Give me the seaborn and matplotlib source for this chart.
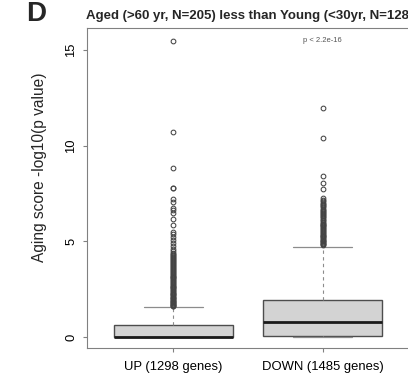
import matplotlib
matplotlib.use("Agg")
import matplotlib.pyplot as plt
import pandas as pd
import seaborn as sns

# box statistics
groups = ["UP (1298 genes)", "DOWN (1485 genes)"]
box_low = [0.0, 0.0]
box_q1 = [0.0, 0.06]
box_median = [0.01, 0.78]
box_q3 = [0.63, 1.94]
box_high = [1.57, 4.72]

up_outliers = [15.48, 10.74, 8.82, 7.81, 7.79, 7.20, 7.08, 6.76, 6.64, 6.50,
               6.16, 5.86, 5.51, 5.37, 5.25, 5.07, 4.92, 4.76, 4.60, 4.50,
               4.39, 4.33, 4.27, 4.22, 4.18, 4.11, 4.05, 4.01, 3.96, 3.90,
               3.86, 3.81, 3.75, 3.70, 3.66, 3.60, 3.55, 3.51, 3.46, 3.40,
               3.35, 3.31, 3.26, 3.21, 3.15, 3.11, 3.06, 3.01, 2.96, 2.92,
               2.87, 2.82, 2.77, 2.73, 2.68, 2.63, 2.59, 2.54, 2.50, 2.45,
               2.41, 2.36, 2.32, 2.27, 2.23, 2.19, 2.14, 2.10, 2.06, 2.02,
               1.98, 1.94, 1.90, 1.86, 1.82, 1.79, 1.75, 1.72, 1.68, 1.65,
               1.62, 1.60]
down_outliers = [11.96, 10.39, 8.42, 8.07, 7.74, 7.29, 7.17, 7.10, 7.02, 6.95,
                 6.90, 6.83, 6.77, 6.70, 6.66, 6.60, 6.53, 6.47, 6.41, 6.36,
                 6.30, 6.25, 6.20, 6.14, 6.09, 6.03, 5.98, 5.93, 5.88, 5.83,
                 5.78, 5.73, 5.68, 5.63, 5.58, 5.53, 5.48, 5.44, 5.39, 5.35,
                 5.30, 5.26, 5.21, 5.17, 5.12, 5.08, 5.04, 5.00, 4.96, 4.92,
                 4.88, 4.84, 4.80]

y_ticks = [0, 5, 10, 15]
panel = "D"
title = "Aged (>60 yr, N=205) less than Young (<30yr, N=128)"
ylabel = "Aging score -log10(p value)"
p_label = "p < 2.2e-16"

# sample whose quartiles / whiskers give the boxes above
rows = []
for g, lo, q1, med, q3, hi, out in zip(groups, box_low, box_q1, box_median,
                                       box_q3, box_high,
                                       [up_outliers, down_outliers]):
    k = 2 * len(out)
    vals = [lo] + [q1] * k + [med] * k + [q3] * k + [hi] + out
    rows += [(g, v) for v in vals]
df = pd.DataFrame(rows, columns=["group", "score"])

sns.set_style("white")
plt.rcParams["font.family"] = ["Liberation Sans", "DejaVu Sans"]

fig = plt.figure(figsize=(4.08, 3.79), dpi=100)
ax = fig.add_axes([87 / 408, 31 / 379, 322 / 408, 320 / 379])

sns.boxplot(
    data=df, x="group", y="score", order=groups, ax=ax,
    width=0.8, whis=1.5, color="#D3D3D3", saturation=1,
    linecolor="#4d4d4d", linewidth=1.0,
    flierprops=dict(marker="o", markersize=3.4, markerfacecolor="none",
                    markeredgecolor="#444444", markeredgewidth=0.75),
    medianprops=dict(color="#1a1a1a", linewidth=2.0),
    whiskerprops=dict(color="#8c8c8c", linestyle=(0, (3, 3)), linewidth=0.8),
    capprops=dict(color="#8c8c8c", linewidth=0.9),
)

ax.set_xlim(-0.58, 1.58)
ax.set_ylim(-0.58, 16.16)
ax.set_yticks(y_ticks)
ax.set_yticklabels(y_ticks, rotation=90, va="center")
ax.set_xlabel("")
ax.set_ylabel("")
for side in ax.spines.values():
    side.set_color("#808080")
    side.set_linewidth(0.8)
ax.tick_params(axis="both", left=True, bottom=True, direction="out",
               length=3, width=0.8, color="#808080", labelsize=9.4,
               labelcolor="black")
ax.tick_params(axis="x", pad=6.5)
ax.tick_params(axis="y", pad=4)

# title runs past the right edge, as in the original crop
fig.text(86 / 408, 1 - 19 / 379, title, fontsize=9.5, fontweight="bold",
         ha="left", va="baseline")
ax.text(1, 15.48, p_label, ha="center", va="center", fontsize=5.5,
        color="#555555")

fig.text(26 / 408, 1 - 21 / 379, panel, fontsize=20, fontweight="bold",
         ha="left", va="baseline")
fig.text(40 / 408, 1 - 167 / 379, ylabel, rotation=90, ha="center",
         va="center", fontsize=11.2)

fig.savefig("out.png", dpi=100)
